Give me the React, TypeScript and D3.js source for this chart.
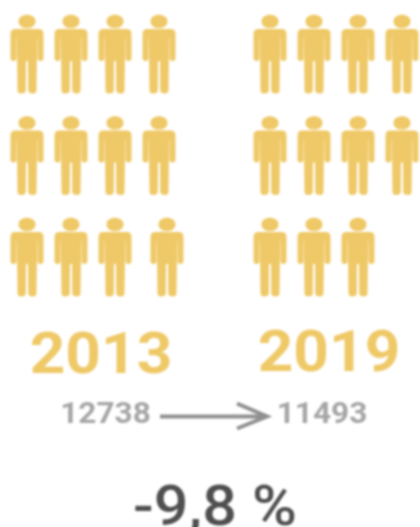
import React from "react";
import * as d3 from "d3";

const years = ["2013", "2019"];
const totals = [12738, 11493];
const figureCounts = [12, 11];
const changeLabel = "-9,8 %";
const gold = "#efc968";
const W = 420, H = 527;

const colsPerRow = 4;
const unit = 33; // figure width
const panelLeft = d3.scaleOrdinal<string, number>().domain(years).range([27, 270]);
const colX = d3.scaleLinear().domain([0, 3]).range([0, 132]);
const rowY = d3.scaleLinear().domain([0, 2]).range([15, 218]);

function personPath(cx: number, top: number) {
  const p = d3.path();
  const rx = 8.5, ry = 6.6;
  const hy = top + 6.4;
  p.moveTo(cx - rx, hy);
  p.bezierCurveTo(cx - rx, hy - ry * 1.33, cx + rx, hy - ry * 1.33, cx + rx, hy);
  p.bezierCurveTo(cx + rx, hy + ry * 1.33, cx - rx, hy + ry * 1.33, cx - rx, hy);
  p.closePath();
  const y0 = top + 14;
  const L = cx - unit / 2;
  const R = cx + unit / 2;
  p.moveTo(L + 5, y0);
  p.lineTo(R - 5, y0);
  p.quadraticCurveTo(R, y0, R, y0 + 5);
  p.lineTo(R, y0 + 29);
  p.quadraticCurveTo(R, y0 + 32, R - 3, y0 + 32);
  p.quadraticCurveTo(R - 6, y0 + 32, R - 6, y0 + 29);
  p.lineTo(R - 6, y0 + 9);
  p.lineTo(cx + 10.2, y0 + 9);
  p.lineTo(cx + 9.5, y0 + 61);
  p.quadraticCurveTo(cx + 9.5, y0 + 64.5, cx + 6, y0 + 64.5);
  p.quadraticCurveTo(cx + 1.2, y0 + 64.5, cx + 1.2, y0 + 61);
  p.lineTo(cx + 1, y0 + 32);
  p.lineTo(cx - 1, y0 + 32);
  p.lineTo(cx - 1.2, y0 + 61);
  p.quadraticCurveTo(cx - 1.2, y0 + 64.5, cx - 6, y0 + 64.5);
  p.quadraticCurveTo(cx - 9.5, y0 + 64.5, cx - 9.5, y0 + 61);
  p.lineTo(cx - 10.2, y0 + 9);
  p.lineTo(L + 6, y0 + 9);
  p.lineTo(L + 6, y0 + 29);
  p.quadraticCurveTo(L + 6, y0 + 32, L + 3, y0 + 32);
  p.quadraticCurveTo(L, y0 + 32, L, y0 + 29);
  p.lineTo(L, y0 + 5);
  p.quadraticCurveTo(L, y0, L + 5, y0);
  p.closePath();
  return p.toString();
}

const font = "Roboto, sans-serif";
const stretch = 1.09;

function Label(props: { x: number; y: number; size: number; weight: number; fill: string; children: React.ReactNode }) {
  return (
    <text
      transform={`translate(${props.x},${props.y}) scale(${stretch},1)`}
      textAnchor="middle"
      fontSize={props.size}
      fontWeight={props.weight}
      fill={props.fill}
    >
      {props.children}
    </text>
  );
}

export default function App() {
  const figures = years.flatMap((year, yi) =>
    d3.range(figureCounts[yi]).map((i) => {
      const col = i % colsPerRow;
      const row = Math.floor(i / colsPerRow);
      const nudge = yi === 0 && i === 11 ? 8 : 0;
      const x = panelLeft(year) + colX(col) + nudge;
      return { key: `${year}-${i}`, d: personPath(x, rowY(row)) };
    })
  );
  return (
    <svg width={W} height={H} style={{ position: "absolute", left: 0, top: 0 }} fontFamily={font}>
      <defs>
        <filter id="soft" x="-5%" y="-5%" width="110%" height="110%">
          <feGaussianBlur stdDeviation="0.8" />
        </filter>
      </defs>
      <g filter="url(#soft)">
        {figures.map((f) => (
          <path key={f.key} d={f.d} fill={gold} />
        ))}
        <Label x={101} y={373} size={57} weight={700} fill={gold}>{years[0]}</Label>
        <Label x={329} y={371} size={57} weight={700} fill={gold}>{years[1]}</Label>
        <Label x={105.5} y={423} size={29} weight={700} fill="#a6a6a6">{totals[0]}</Label>
        <Label x={322} y={423} size={29} weight={700} fill="#a6a6a6">{totals[1]}</Label>
        <path d="M160,416.5H267M237,403.5L267,416.5L237,428.5" fill="none" stroke="#909090" strokeWidth={4} />
        <Label x={215} y={525} size={56} weight={500} fill="#505050">{changeLabel}</Label>
      </g>
    </svg>
  );
}
